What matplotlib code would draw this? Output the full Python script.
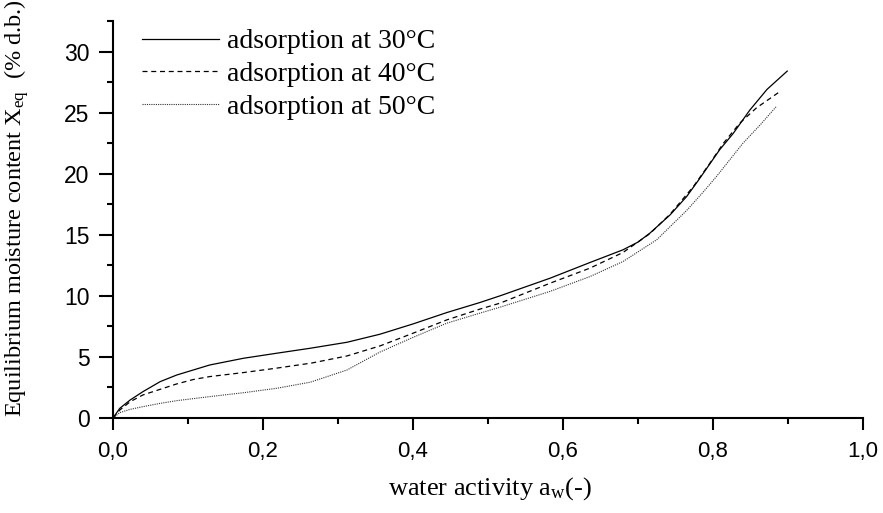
import matplotlib
matplotlib.use("Agg")
import matplotlib.pyplot as plt
from matplotlib.ticker import MultipleLocator, FuncFormatter

plt.rcParams['mathtext.default'] = 'regular'

# sorption isotherm curves
aw_30 = [0.0, 0.009, 0.023, 0.040, 0.063, 0.085, 0.107, 0.129, 0.174, 0.218, 0.263,
         0.312, 0.356, 0.400, 0.445, 0.489, 0.516, 0.583, 0.636, 0.680, 0.700, 0.716,
         0.743, 0.765, 0.781, 0.809, 0.827, 0.849, 0.872, 0.899]
x_30 = [0.0, 0.79, 1.48, 2.16, 2.98, 3.52, 3.93, 4.34, 4.89, 5.3, 5.71,
        6.2, 6.86, 7.7, 8.63, 9.45, 10.0, 11.45, 12.73, 13.77, 14.4, 15.14,
        16.64, 18.14, 19.5, 21.97, 23.3, 25.2, 26.9, 28.4]

aw_40 = [0.0, 0.009, 0.023, 0.040, 0.063, 0.085, 0.107, 0.129, 0.174, 0.218, 0.265,
         0.312, 0.356, 0.400, 0.445, 0.489, 0.516, 0.583, 0.636, 0.680, 0.716,
         0.743, 0.774, 0.796, 0.814, 0.836, 0.858, 0.891]
x_40 = [0.0, 0.65, 1.34, 1.89, 2.35, 2.79, 3.15, 3.39, 3.72, 4.08, 4.5,
        5.08, 5.9, 6.94, 8.03, 8.91, 9.4, 11.04, 12.27, 13.55, 15.1,
        16.7, 18.96, 20.87, 22.5, 24.16, 25.39, 26.8]

aw_50 = [0.0, 0.009, 0.023, 0.040, 0.063, 0.085, 0.129, 0.174, 0.218, 0.263, 0.312,
         0.356, 0.400, 0.445, 0.489, 0.516, 0.583, 0.636, 0.680, 0.725, 0.765,
         0.787, 0.805, 0.840, 0.863, 0.884]
x_50 = [0.0, 0.44, 0.71, 0.93, 1.2, 1.42, 1.75, 2.07, 2.43, 2.93, 3.93,
        5.4, 6.6, 7.76, 8.58, 9.07, 10.37, 11.58, 12.81, 14.59, 17.0,
        18.5, 19.8, 22.5, 24.0, 25.47]

labels = ['adsorption at 30°C', 'adsorption at 40°C', 'adsorption at 50°C']

fig = plt.figure(figsize=(8.83, 5.13), dpi=100)
ax = fig.add_axes([113 / 883, 95 / 513, 750 / 883, 397 / 513])

ax.plot(aw_30, x_30, color='black', lw=0.9, ls='-', label=labels[0])
ax.plot(aw_40, x_40, color='black', lw=0.9, ls=(0, (4, 3)), label=labels[1])
ax.plot(aw_50, x_50, color='#333333', lw=0.8, ls=(0, (1, 1)), label=labels[2])

ax.set_xlim(0, 1.0)
ax.set_ylim(0, 32.5)

for s in ['top', 'right']:
    ax.spines[s].set_visible(False)
for s in ['left', 'bottom']:
    ax.spines[s].set_linewidth(1.5)

ax.xaxis.set_major_locator(MultipleLocator(0.2))
ax.xaxis.set_minor_locator(MultipleLocator(0.1))
ax.yaxis.set_major_locator(MultipleLocator(5))
ax.yaxis.set_minor_locator(MultipleLocator(2.5))
ax.xaxis.set_major_formatter(FuncFormatter(lambda v, p: f"{v:.1f}".replace('.', ',')))

ax.tick_params(axis='x', which='major', direction='out', length=8.6, width=1.5, pad=8)
ax.tick_params(axis='x', which='minor', direction='out', length=4.3, width=1.5)
ax.tick_params(axis='y', which='major', direction='out', length=10, width=1.5, pad=7)
ax.tick_params(axis='y', which='minor', direction='out', length=4.3, width=1.5)
for t in ax.get_xticklabels():
    t.set_fontfamily('Liberation Sans')
    t.set_fontsize(16)
for t in ax.get_yticklabels():
    t.set_fontfamily('Liberation Sans')
    t.set_fontsize(16.5)

ax.set_xlabel('water activity a$_w$(-)', fontfamily='Liberation Serif', fontsize=19)
ax.set_ylabel('Equilibrium moisture content X$_{eq}$  (% d.b.)',
              fontfamily='Liberation Serif', fontsize=17.5)
ax.xaxis.set_label_coords(0.503, -0.178)
ax.xaxis.label.set_va('center')
ax.yaxis.set_label_coords(-0.128, 0.529)
ax.yaxis.label.set_va('center')

leg = ax.legend(loc='upper left', bbox_to_anchor=(0.039, 0.98), frameon=False,
                borderpad=0, borderaxespad=0, handlelength=2.75, handletextpad=0.3,
                labelspacing=0.26, prop={'family': 'Liberation Serif', 'size': 20})

fig.savefig('out.png', dpi=100)
